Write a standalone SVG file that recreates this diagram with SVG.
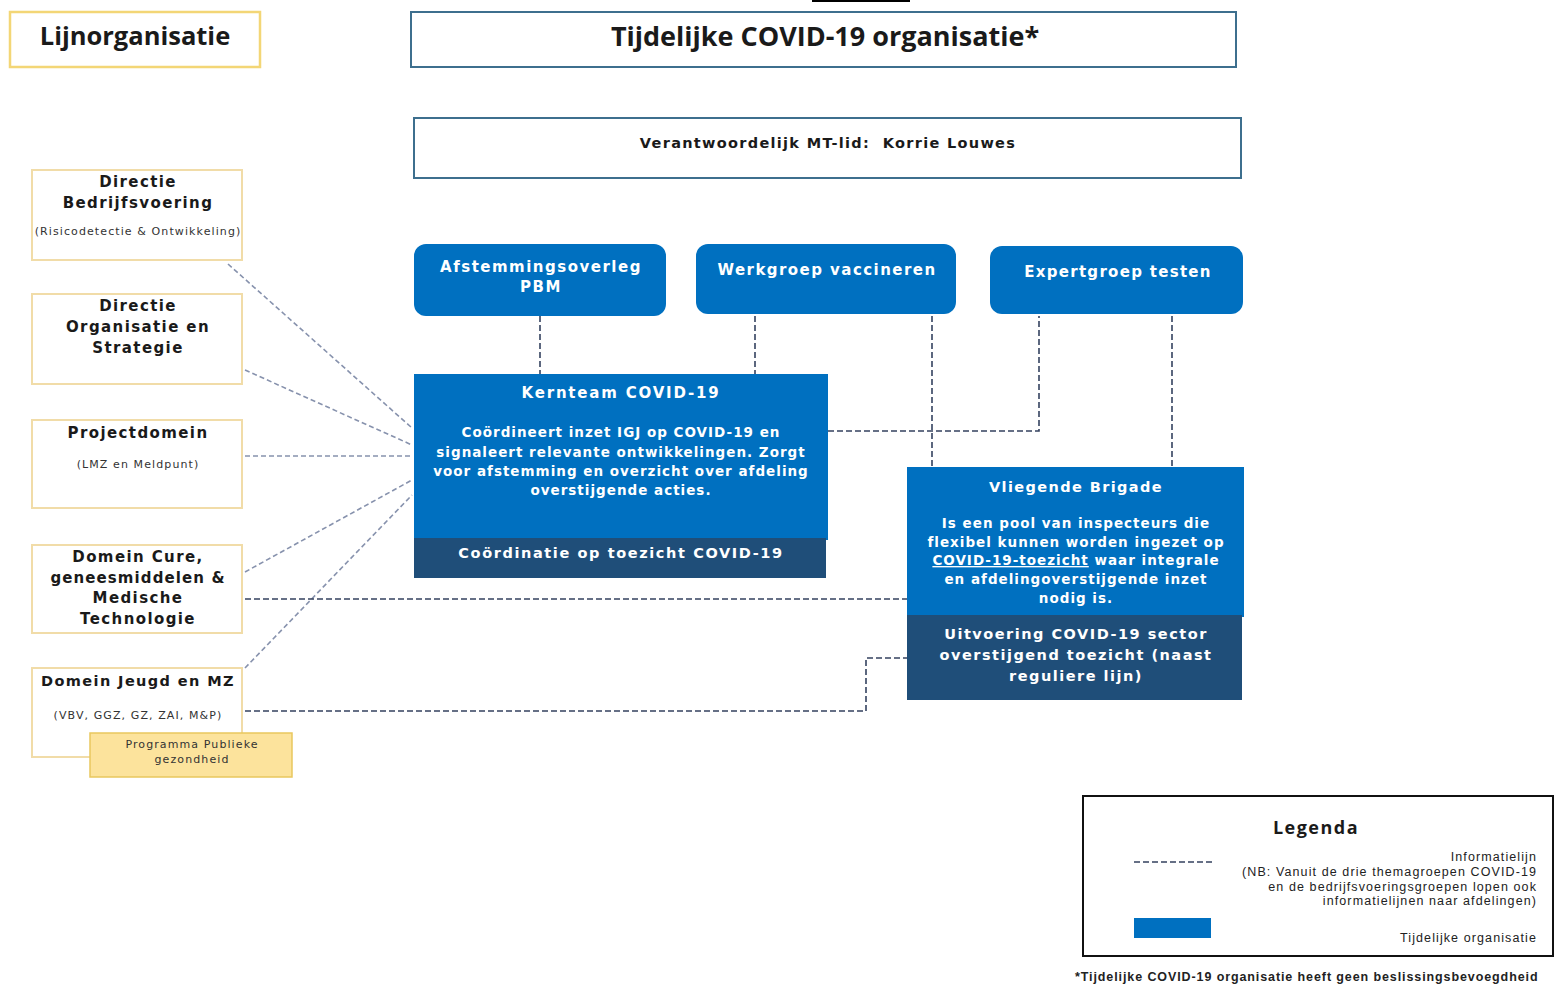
<svg xmlns="http://www.w3.org/2000/svg" width="1562" height="985" viewBox="0 0 1562 985">
<style>
.bg{fill:#ffffff}
.hdr{fill:#fff;stroke:#3d6f8e;stroke-width:2}
.line{fill:#fff;stroke:#f3d676;stroke-width:2.5}
.lb{fill:#fff;stroke:#f1dca8;stroke-width:2}
.prog{fill:#fce39c;stroke:#e9c75e;stroke-width:1.5}
.blue{fill:#0070c0}
.dark{fill:#1f4e79}
.t{font-family:"DejaVu Sans",Verdana,sans-serif;font-weight:bold;text-anchor:middle}
.w{fill:#ffffff}
.k{fill:#1a1a1a}
.lt{letter-spacing:1.4px}
.s{font-family:"DejaVu Sans",Verdana,sans-serif;font-size:11px;text-anchor:middle;fill:#333;letter-spacing:1.1px}
.c{font-family:"Open Sans","Noto Sans",sans-serif;font-weight:bold;text-anchor:middle;fill:#1a1a1a}
.lg{font-family:"Liberation Sans",Arial,sans-serif;font-size:12.5px;text-anchor:end;fill:#222;letter-spacing:1.1px}
.dl{fill:none;stroke:#8792ad;stroke-width:1.6;stroke-dasharray:5 3}
.dd{fill:none;stroke:#34425f;stroke-width:1.6;stroke-dasharray:6 3}
</style>
<rect class="bg" x="0" y="0" width="1562" height="985"/>
<rect x="812" y="0" width="98" height="2" fill="#000"/>

<g id="lijnorganisatie">
<rect class="line" x="10" y="12" width="250" height="55"/>
<text class="c" x="135" y="45" font-size="25.5" font-weight="600">Lijnorganisatie</text>
</g>

<g id="titel">
<rect class="hdr" x="411" y="12" width="825" height="55"/>
<text class="c" x="825" y="46" font-size="27" font-weight="600">Tijdelijke COVID-19 organisatie*</text>
</g>

<g id="verantwoordelijk">
<rect class="hdr" x="414" y="118" width="827" height="60"/>
<text class="t k" x="828" y="148" font-size="14.5" letter-spacing="1.3" xml:space="preserve">Verantwoordelijk MT-lid:  Korrie Louwes</text>
</g>

<g id="connectors">
<line class="dl" x1="228" y1="264" x2="412" y2="428"/>
<line class="dl" x1="245" y1="370" x2="412" y2="445"/>
<line class="dl" x1="245" y1="456" x2="412" y2="456"/>
<line class="dl" x1="245" y1="572" x2="412" y2="480"/>
<line class="dl" x1="245" y1="668" x2="412" y2="495"/>
<line class="dd" x1="245" y1="599" x2="907" y2="599"/>
<polyline class="dd" points="245,711 866,711 866,658 907,658"/>
<line class="dd" x1="540" y1="316" x2="540" y2="374"/>
<line class="dd" x1="755" y1="316" x2="755" y2="374"/>
<line class="dd" x1="932" y1="316" x2="932" y2="467"/>
<polyline class="dd" points="828,431 1039,431 1039,316"/>
<line class="dd" x1="1172" y1="316" x2="1172" y2="467"/>
</g>

<g id="directie-bedrijfsvoering">
<rect class="lb" x="32" y="170" width="210" height="90"/>
<text class="t k lt" x="138" y="187" font-size="15">Directie</text>
<text class="t k lt" x="138" y="208" font-size="15">Bedrijfsvoering</text>
<text class="s" x="138" y="235" font-size="10.5">(Risicodetectie &amp; Ontwikkeling)</text>
</g>

<g id="directie-os">
<rect class="lb" x="32" y="294" width="210" height="90"/>
<text class="t k lt" x="138" y="311" font-size="15">Directie</text>
<text class="t k lt" x="138" y="332" font-size="15">Organisatie en</text>
<text class="t k lt" x="138" y="353" font-size="15">Strategie</text>
</g>

<g id="projectdomein">
<rect class="lb" x="32" y="420" width="210" height="88"/>
<text class="t k lt" x="138" y="438" font-size="15">Projectdomein</text>
<text class="s" x="138" y="468">(LMZ en Meldpunt)</text>
</g>

<g id="domein-cure">
<rect class="lb" x="32" y="545" width="210" height="88"/>
<text class="t k lt" x="138" y="562" font-size="15">Domein Cure,</text>
<text class="t k" x="138" y="583" font-size="15" letter-spacing="1.1">geneesmiddelen &amp;</text>
<text class="t k lt" x="138" y="603" font-size="15">Medische</text>
<text class="t k lt" x="138" y="624" font-size="15">Technologie</text>
</g>

<g id="domein-jeugd">
<rect class="lb" x="32" y="668" width="210" height="89"/>
<text class="t k lt" x="138" y="686" font-size="14.5">Domein Jeugd en MZ</text>
<text class="s" x="138" y="719" letter-spacing="1.3">(VBV, GGZ, GZ, ZAI, M&amp;P)</text>
</g>

<g id="programma-publieke-gezondheid">
<rect class="prog" x="90" y="733" width="202" height="44"/>
<text class="s" x="192" y="748" font-size="12.5" letter-spacing="2.2">Programma Publieke</text>
<text class="s" x="192" y="763" font-size="12.5" letter-spacing="2.2">gezondheid</text>
</g>

<g id="afstemmingsoverleg">
<rect class="blue" x="414" y="244" width="252" height="72" rx="12"/>
<text class="t w" x="541" y="272" font-size="15" letter-spacing="1.5">Afstemmingsoverleg</text>
<text class="t w" x="541" y="292" font-size="15" letter-spacing="1.5">PBM</text>
</g>

<g id="werkgroep">
<rect class="blue" x="696" y="244" width="260" height="70" rx="12"/>
<text class="t w" x="827" y="275" font-size="15" letter-spacing="1.45">Werkgroep vaccineren</text>
</g>

<g id="expertgroep">
<rect class="blue" x="990" y="246" width="253" height="68" rx="12"/>
<text class="t w" x="1118" y="277" font-size="15" letter-spacing="1.3">Expertgroep testen</text>
</g>

<g id="kernteam">
<rect class="blue" x="414" y="374" width="414" height="166"/>
<rect class="dark" x="414" y="538" width="412" height="40"/>
<text class="t w" x="621" y="398" font-size="15" letter-spacing="1.8">Kernteam COVID-19</text>
<text class="t w" x="621" y="437" font-size="13.5" letter-spacing="1">Coördineert inzet IGJ op COVID-19 en</text>
<text class="t w" x="621" y="457" font-size="13.5" letter-spacing="1">signaleert relevante ontwikkelingen. Zorgt</text>
<text class="t w" x="621" y="476" font-size="13.5" letter-spacing="1">voor afstemming en overzicht over afdeling</text>
<text class="t w" x="621" y="495" font-size="13.5" letter-spacing="1">overstijgende acties.</text>
<text class="t w" x="621" y="558" font-size="14.5" letter-spacing="1.6">Coördinatie op toezicht COVID-19</text>
</g>

<g id="vliegende-brigade">
<rect class="blue" x="907" y="467" width="337" height="150"/>
<rect class="dark" x="907" y="615" width="335" height="85"/>
<text class="t w" x="1076" y="492" font-size="14.5" letter-spacing="1.4">Vliegende Brigade</text>
<text class="t w" x="1076" y="528" font-size="13.5" letter-spacing="1">Is een pool van inspecteurs die</text>
<text class="t w" x="1076" y="547" font-size="13.5" letter-spacing="1">flexibel kunnen worden ingezet op</text>
<text class="t w" x="1076" y="565" font-size="13.5" letter-spacing="1"><tspan text-decoration="underline">COVID-19-toezicht</tspan> waar integrale</text>
<text class="t w" x="1076" y="584" font-size="13.5" letter-spacing="1">en afdelingoverstijgende inzet</text>
<text class="t w" x="1076" y="603" font-size="13.5" letter-spacing="1">nodig is.</text>
<text class="t w" x="1076" y="639" font-size="14.5" letter-spacing="1.5">Uitvoering COVID-19 sector</text>
<text class="t w" x="1076" y="660" font-size="14.5" letter-spacing="1.5">overstijgend toezicht (naast</text>
<text class="t w" x="1076" y="681" font-size="14.5" letter-spacing="1.5">reguliere lijn)</text>
</g>

<g id="legenda">
<rect x="1083" y="796" width="470" height="160" fill="#fff" stroke="#111" stroke-width="2"/>
<text class="c" x="1316" y="834" font-size="18" letter-spacing="1.5">Legenda</text>
<line class="dd" x1="1134" y1="862" x2="1213" y2="862"/>
<text class="lg" x="1537" y="861">Informatielijn</text>
<text class="lg" x="1537" y="876">(NB: Vanuit de drie themagroepen COVID-19</text>
<text class="lg" x="1537" y="891">en de bedrijfsvoeringsgroepen lopen ook</text>
<text class="lg" x="1537" y="905">informatielijnen naar afdelingen)</text>
<rect class="blue" x="1134" y="918" width="77" height="20"/>
<text class="lg" x="1537" y="942">Tijdelijke organisatie</text>
</g>

<text x="1075" y="981" font-family="Liberation Sans,Arial,sans-serif" font-size="12.5" font-weight="bold" fill="#222" letter-spacing="0.9">*Tijdelijke COVID-19 organisatie heeft geen beslissingsbevoegdheid</text>
</svg>
